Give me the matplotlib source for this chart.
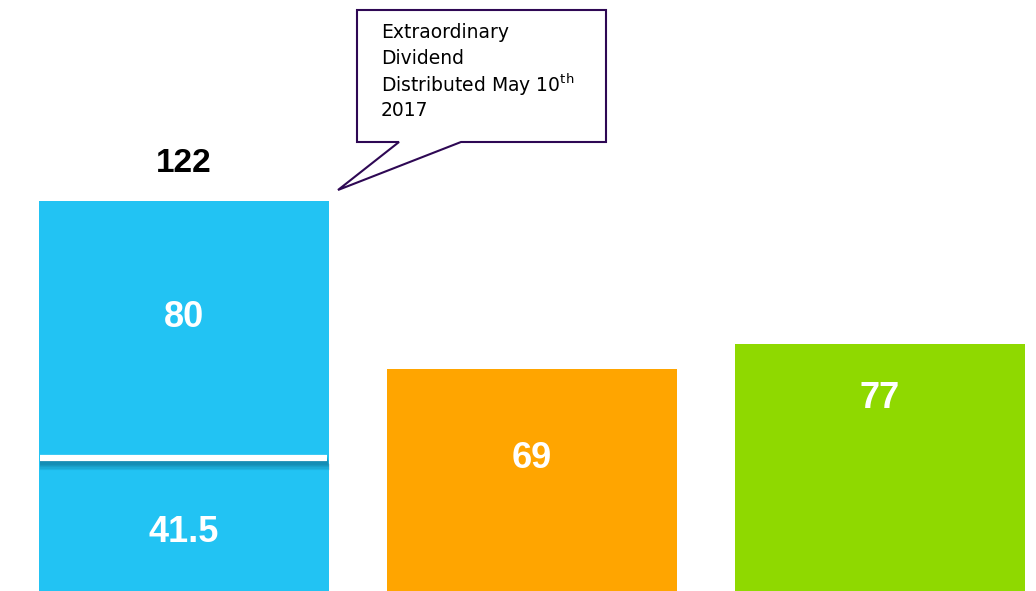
import matplotlib
matplotlib.use("Agg")
import matplotlib.pyplot as plt
import matplotlib.font_manager as fm
from matplotlib.patches import Polygon

# data
categories = ["A", "B", "C"]
base_values = [41.5, 69, 77]
extra_values = [80, 0, 0]
total_label = "122"
bar_colors = ["#22C3F3", "#FFA500", "#8FD900"]

# label heights (data units) as placed in the original
base_label_y = [18.3, 41.4, 60.0]
extra_label_y = 85.3
total_label_y = 133.2

# pick the regular-width Liberation Sans Bold (not the Narrow cut)
bold_path = None
for f in fm.findSystemFonts():
    if f.endswith("LiberationSans-Bold.ttf"):
        bold_path = f
        break
bold = fm.FontProperties(fname=bold_path) if bold_path else fm.FontProperties(family="DejaVu Sans", weight="bold")

fig = plt.figure(figsize=(10.36, 5.91), dpi=100)
ax = fig.add_axes([0, 0, 1, 1])
ax.set_xlim(-0.5287, 2.448)
ax.set_ylim(0, 184)
ax.axis("off")

x = list(range(len(categories)))
width = 0.833
ax.bar(x, base_values, width=width, color=bar_colors, linewidth=0)
ax.bar(x, extra_values, bottom=base_values, width=width,
       color=bar_colors, linewidth=0)

# separator between the two stacked parts, with a soft shadow
x0 = x[0] - width / 2 + 0.003
x1 = x[0] + width / 2 - 0.006
for k in range(1, 9):
    ax.hlines(base_values[0] - 0.35 * k, x0, x1 + 0.001 * k,
              color="#0b5a78", linewidth=4.5, alpha=0.12, zorder=2.5)
ax.hlines(base_values[0], x0, x1, color="white", linewidth=4.5, zorder=3)

for xi, v, ly in zip(x, base_values, base_label_y):
    ax.text(xi, ly, f"{v:g}", ha="center", va="center", color="white",
            fontproperties=bold, fontsize=26)
ax.text(x[0], extra_label_y, f"{extra_values[0]:g}", ha="center", va="center",
        color="white", fontproperties=bold, fontsize=26)
ax.text(x[0], total_label_y, total_label, ha="center", va="center",
        color="black", fontproperties=bold, fontsize=24)

# speech-bubble callout
W, H = 1036, 591
pts = [(357, 10), (606, 10), (606, 142), (461, 142), (338, 190), (399, 142), (357, 142)]
poly = Polygon([(px / W, 1 - py / H) for px, py in pts], closed=True,
               transform=ax.transAxes, facecolor="white", edgecolor="#2E0854",
               linewidth=1.5, zorder=5)
ax.add_patch(poly)
lines = ["Extraordinary", "Dividend", "Distributed May 10$^{\\mathrm{th}}$", "2017"]
for i, t in enumerate(lines):
    ax.text(381 / W, 1 - (33 + 25.7 * i) / H, t, transform=ax.transAxes,
            ha="left", va="center", fontsize=13.5, color="black", zorder=6,
            family="DejaVu Sans")

fig.savefig("out.png", dpi=100)
